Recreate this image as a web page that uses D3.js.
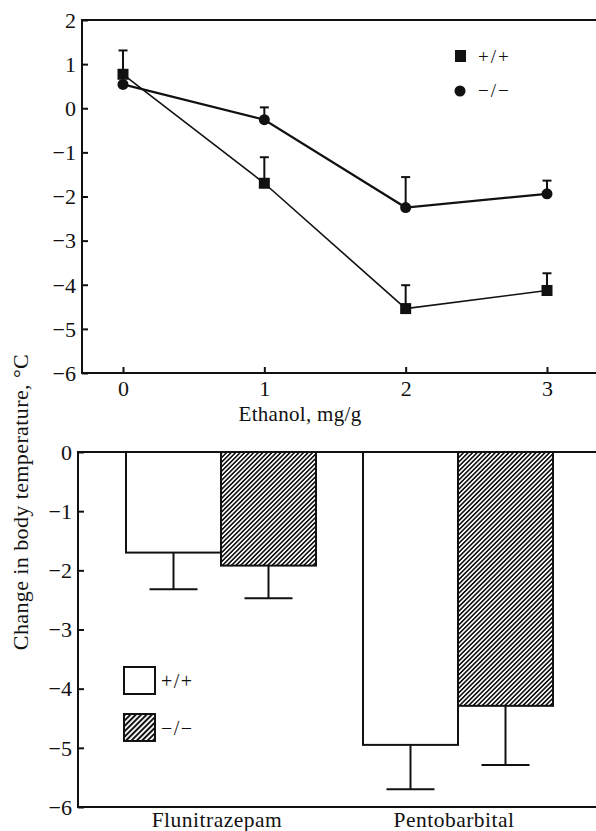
<!doctype html>
<html>
<head>
  <style>
    body { margin:0; background:#fff; }
  </style>
  <script src="https://d3js.org/d3.v7.min.js"></script>
</head>
<body>
  <script type="text/javascript">
    // ethanol dose-response
    var doses = [0, 1, 2, 3];
    var wtMean = [0.77, -1.70, -4.54, -4.13];
    var wtErr  = [0.54, 0.59, 0.53, 0.39];
    var koMean = [0.54, -0.26, -2.25, -1.94];
    var koErr  = [0.0, 0.28, 0.69, 0.30];
    var topTicks = [2, 1, 0, -1, -2, -3, -4, -5, -6];

    // other drugs
    var drugs = ["Flunitrazepam", "Pentobarbital"];
    var genotypes = ["+/+", "\u2212/\u2212"];
    var barMean = [[-1.70, -1.92], [-4.95, -4.29]];
    var barErr  = [[0.62, 0.55], [0.75, 1.00]];
    var bottomTicks = [0, -1, -2, -3, -4, -5, -6];

    var SERIF = '"Liberation Serif", "Times New Roman", "DejaVu Serif", serif';
    var W = 596, H = 831;
    var svg = d3.select("body").append("svg")
      .attr("width", W).attr("height", H)
      .attr("font-family", SERIF);

    var defs = svg.append("defs");
    function hatch(id, period, ink) {
      var p = defs.append("pattern")
        .attr("id", id)
        .attr("patternUnits", "userSpaceOnUse")
        .attr("width", period).attr("height", period)
        .attr("patternTransform", "rotate(45)");
      p.append("rect").attr("width", period).attr("height", period).attr("fill", "#fff");
      p.append("rect").attr("width", ink).attr("height", period).attr("fill", "#111");
    }
    hatch("hatch", 3.2, 1.6);
    hatch("hatchLg", 3.8, 2.0);

    function fmt(v) { return v < 0 ? "\u2212" + Math.abs(v) : String(v); }
    function serif(sel, size) {
      sel.style("font-family", SERIF).style("font-size", size + "px").attr("fill", "#111");
    }

    // ---- top panel ----
    var left1 = 82, top1 = 20, bot1 = 373;
    var x1 = d3.scaleLinear().domain([0, 3]).range([123, 547]);
    var y1 = d3.scaleLinear().domain([-6, 2]).range([bot1, top1]);

    var g1 = svg.append("g");
    g1.append("path")
      .attr("d", "M" + W + "," + top1 + "H" + left1 + "V" + bot1 + "H" + W)
      .attr("fill", "none").attr("stroke", "#111").attr("stroke-width", 2);

    var yAx1 = g1.append("g").attr("transform", "translate(" + left1 + ",0)")
      .call(d3.axisLeft(y1).tickValues(topTicks).tickSize(-6).tickPadding(6).tickFormat(fmt));
    yAx1.attr("font-family", SERIF);
    yAx1.select(".domain").remove();
    yAx1.selectAll("line").attr("stroke", "#111").attr("stroke-width", 2);
    yAx1.selectAll("text").call(serif, 22).attr("dy", "0.33em");

    var xAx1 = g1.append("g").attr("transform", "translate(0," + bot1 + ")")
      .call(d3.axisBottom(x1).tickValues(doses).tickSize(-6).tickPadding(7).tickFormat(d3.format("d")));
    xAx1.attr("font-family", SERIF);
    xAx1.select(".domain").remove();
    xAx1.selectAll("line").attr("stroke", "#111").attr("stroke-width", 2);
    xAx1.selectAll("text").call(serif, 22);

    g1.append("text").attr("x", 300).attr("y", 421)
      .attr("text-anchor", "middle").style("letter-spacing", "0.3px").call(serif, 21)
      .text("Ethanol, mg/g");

    function series(mean, err, width) {
      var pts = doses.map(function(d, i) { return {x: d, y: mean[i], e: err[i]}; });
      g1.append("path").datum(pts)
        .attr("fill", "none").attr("stroke", "#111").attr("stroke-width", width)
        .attr("d", d3.line().x(function(d) { return x1(d.x); }).y(function(d) { return y1(d.y); }));
      var eb = g1.append("g").selectAll("g").data(pts.filter(function(d) { return d.e > 0; }))
        .enter().append("g");
      eb.append("line")
        .attr("x1", function(d) { return x1(d.x); }).attr("x2", function(d) { return x1(d.x); })
        .attr("y1", function(d) { return y1(d.y); }).attr("y2", function(d) { return y1(d.y + d.e); })
        .attr("stroke", "#111").attr("stroke-width", 2);
      eb.append("line")
        .attr("x1", function(d) { return x1(d.x) - 4.5; }).attr("x2", function(d) { return x1(d.x) + 4.5; })
        .attr("y1", function(d) { return y1(d.y + d.e); }).attr("y2", function(d) { return y1(d.y + d.e); })
        .attr("stroke", "#111").attr("stroke-width", 2);
      return pts;
    }

    var wtPts = series(wtMean, wtErr, 1.6);
    var koPts = series(koMean, koErr, 2.2);

    g1.selectAll(".sq").data(wtPts).enter().append("rect")
      .attr("x", function(d) { return x1(d.x) - 5.5; }).attr("y", function(d) { return y1(d.y) - 5.5; })
      .attr("width", 11).attr("height", 11).attr("fill", "#111");
    g1.selectAll(".ci").data(koPts).enter().append("circle")
      .attr("cx", function(d) { return x1(d.x); }).attr("cy", function(d) { return y1(d.y); })
      .attr("r", 5.5).attr("fill", "#111");

    // legend top
    g1.append("rect").attr("x", 455).attr("y", 50).attr("width", 11).attr("height", 12).attr("fill", "#111");
    g1.append("text").attr("x", 478).attr("y", 63).style("letter-spacing", "2px").call(serif, 19).text(genotypes[0]);
    g1.append("circle").attr("cx", 460).attr("cy", 91).attr("r", 5.5).attr("fill", "#111");
    g1.append("text").attr("x", 478).attr("y", 97).style("letter-spacing", "2px").call(serif, 19).text(genotypes[1]);

    // shared y label
    svg.append("text")
      .attr("transform", "translate(28,502) rotate(-90)")
      .attr("text-anchor", "middle").style("letter-spacing", "0.4px").call(serif, 22)
      .text("Change in body temperature, \u00b0C");

    // ---- bottom panel ----
    var left2 = 78, top2 = 452, bot2 = 807;
    var y2 = d3.scaleLinear().domain([-6, 0]).range([bot2, top2]);
    var x2 = d3.scalePoint().domain(drugs).range([221, 458]);
    var xSub = d3.scaleBand().domain(genotypes).range([-95, 95]);

    var g2 = svg.append("g");

    var groups = g2.selectAll(".grp").data(drugs).enter().append("g")
      .attr("transform", function(d) { return "translate(" + x2(d) + ",0)"; });

    groups.each(function(drug, i) {
      var gg = d3.select(this);
      var rows = genotypes.map(function(gt, j) { return {gt: gt, j: j, v: barMean[i][j], e: barErr[i][j]}; });
      gg.selectAll("rect").data(rows).enter().append("rect")
        .attr("x", function(d) { return xSub(d.gt); })
        .attr("y", y2(0))
        .attr("width", xSub.bandwidth())
        .attr("height", function(d) { return y2(d.v) - y2(0); })
        .attr("fill", function(d) { return d.j === 0 ? "#fff" : "url(#hatch)"; })
        .attr("stroke", "#111").attr("stroke-width", 2);
      var eb = gg.selectAll(".eb").data(rows).enter().append("g");
      eb.append("line")
        .attr("x1", function(d) { return xSub(d.gt) + xSub.bandwidth() / 2; })
        .attr("x2", function(d) { return xSub(d.gt) + xSub.bandwidth() / 2; })
        .attr("y1", function(d) { return y2(d.v); })
        .attr("y2", function(d) { return y2(d.v - d.e); })
        .attr("stroke", "#111").attr("stroke-width", 2);
      eb.append("line")
        .attr("x1", function(d) { return xSub(d.gt) + xSub.bandwidth() / 2 - 24; })
        .attr("x2", function(d) { return xSub(d.gt) + xSub.bandwidth() / 2 + 24; })
        .attr("y1", function(d) { return y2(d.v - d.e); })
        .attr("y2", function(d) { return y2(d.v - d.e); })
        .attr("stroke", "#111").attr("stroke-width", 2);
    });

    g2.append("path")
      .attr("d", "M" + W + "," + top2 + "H" + left2 + "V" + bot2 + "H" + W)
      .attr("fill", "none").attr("stroke", "#111").attr("stroke-width", 2);

    var yAx2 = g2.append("g").attr("transform", "translate(" + left2 + ",0)")
      .call(d3.axisLeft(y2).tickValues(bottomTicks).tickSize(-6).tickPadding(6).tickFormat(fmt));
    yAx2.attr("font-family", SERIF);
    yAx2.select(".domain").remove();
    yAx2.selectAll("line").attr("stroke", "#111").attr("stroke-width", 2);
    yAx2.selectAll("text").call(serif, 22).attr("dy", "0.33em");

    g2.selectAll(".cat").data(drugs).enter().append("text")
      .attr("x", function(d) { return x2(d) - 4; }).attr("y", 827)
      .attr("text-anchor", "middle").style("letter-spacing", "0.5px").call(serif, 21.5)
      .text(function(d) { return d; });

    // legend bottom
    var lg = g2.append("g");
    lg.selectAll("rect").data(genotypes).enter().append("rect")
      .attr("x", 124).attr("y", function(d, i) { return 667 + i * 47; })
      .attr("width", 31).attr("height", 27)
      .attr("fill", function(d, i) { return i === 0 ? "#fff" : "url(#hatchLg)"; })
      .attr("stroke", "#111").attr("stroke-width", 2);
    lg.selectAll("text").data(genotypes).enter().append("text")
      .attr("x", 161).attr("y", function(d, i) { return 688 + i * 47; })
      .style("letter-spacing", "1.5px").call(serif, 20)
      .text(function(d) { return d; });
  </script>
</body>
</html>
